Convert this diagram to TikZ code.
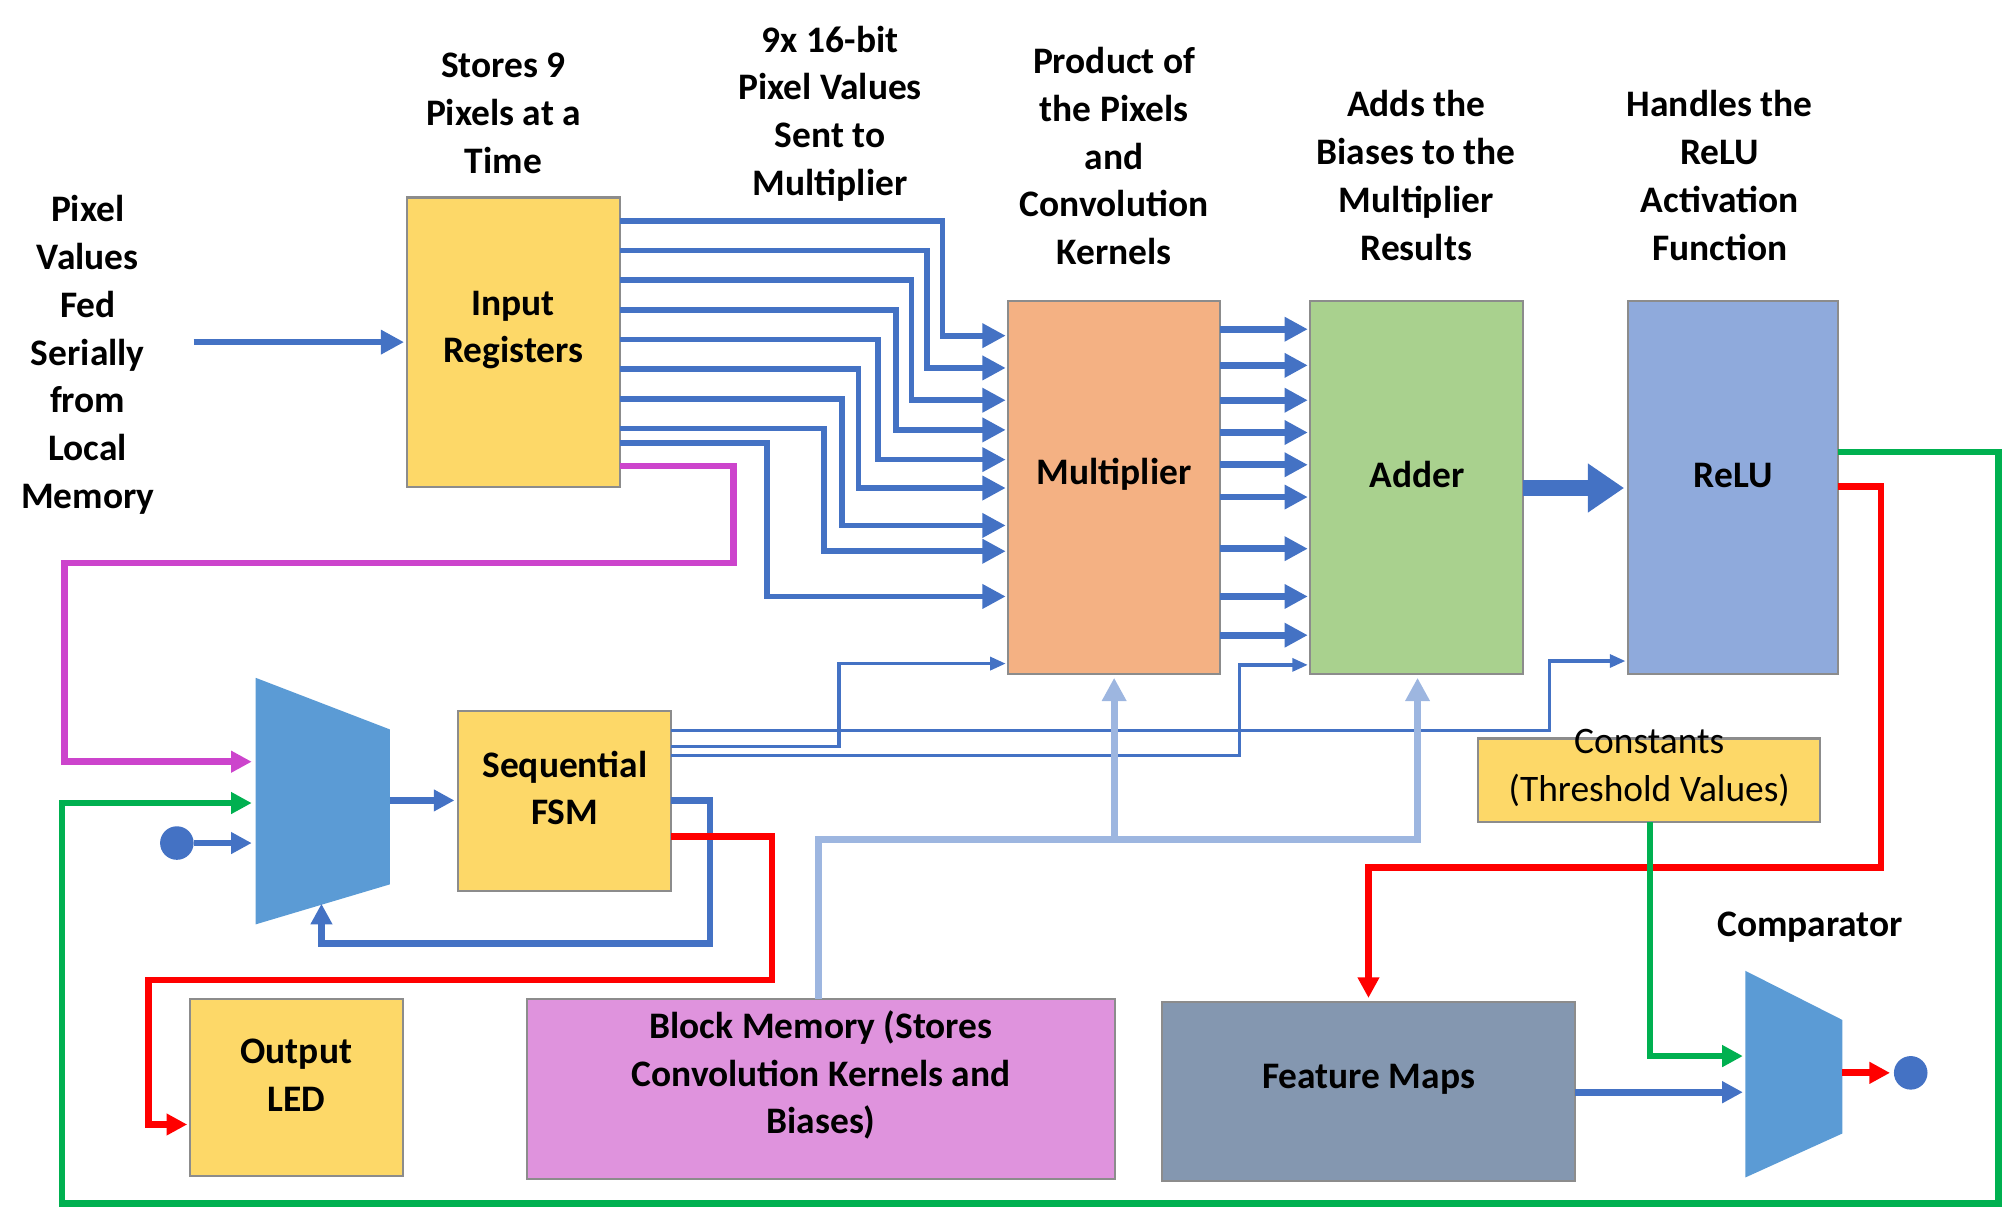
\documentclass[tikz,border=0pt]{standalone}
\usepackage{fontspec}
\setmainfont{Carlito}
\usetikzlibrary{fit,arrows.meta}
\definecolor{yel}{HTML}{FDD868}
\definecolor{ora}{HTML}{F4B183}
\definecolor{grn}{HTML}{A9D18E}
\definecolor{blu}{HTML}{8FAADC}
\definecolor{pnk}{HTML}{DF93DD}
\definecolor{fmap}{HTML}{8497B0}
\definecolor{ln}{HTML}{4472C4}
\definecolor{mux}{HTML}{5B9BD5}
\definecolor{lb}{HTML}{9DB6E0}
\definecolor{mag}{HTML}{CC44CC}
\definecolor{gr}{HTML}{00B050}
\begin{document}
\begin{tikzpicture}[x=0.5pt,y=-0.5pt,
  font=\fontsize{14.5}{18.5}\selectfont\bfseries,
  box/.style={draw=black!45,line width=0.8pt,inner sep=0pt,align=center},
  lbl/.style={align=center},
  bus/.style={ln,line width=2.6pt,-{Triangle[length=9pt,width=9pt]}},
  thin/.style={ln,line width=1.3pt,-{Triangle[length=6pt,width=5pt]}},
  wire/.style={line width=2.6pt,-{Triangle[length=8pt,width=8pt]}}]
\useasboundingbox (0,0) rectangle (1560,948);
% blocks
\node[box,fill=yel,fit={(315,153)(480,377)}] (inreg) {Input\\Registers};
\node[box,fill=ora,fit={(781,233)(945,522)}] (mult) {Multiplier};
\node[box,fill=grn,fit={(1015,233)(1180,522)}] (add) {Adder};
\node[box,fill=blu,fit={(1261,233)(1424,522)}] (relu) {ReLU};
\node[box,fill=yel,fit={(355,551)(520,690)}] (fsm) {Sequential\\FSM};
\node[box,fill=yel,fit={(147,774)(312,911)}] (led) {Output\\LED};
\node[box,fill=pnk,fit={(408,774)(864,913)}] (bram) {Block Memory (Stores\\Convolution Kernels and\\Biases)};
\node[box,fill=fmap,fit={(900,776)(1220,915)}] (fm) {Feature Maps};
\node[box,fill=yel,fit={(1145,572)(1410,637)}] (const) {\fontseries{m}\selectfont Constants\\\fontseries{m}\selectfont (Threshold Values)};
% muxes
\fill[mux] (198,525) -- (302,565) -- (302,685) -- (198,716) -- cycle;
\fill[mux] (1352,752) -- (1427,790) -- (1427,878) -- (1352,912) -- cycle;
\fill[ln] (137,653) circle (13);
\fill[ln] (1480,831) circle (13);
% labels
\node[lbl] at (68,275) {Pixel\\Values\\Fed\\Serially\\from\\Local\\Memory};
\node[lbl] at (390,88) {Stores 9\\Pixels at a\\Time};
\node[lbl] at (643,88) {9x 16-bit\\Pixel Values\\Sent to\\Multiplier};
\node[lbl] at (863,121) {Product of\\the Pixels\\and\\Convolution\\Kernels};
\node[lbl] at (1097,136) {Adds the\\Biases to the\\Multiplier\\Results};
\node[lbl] at (1332,136) {Handles the\\ReLU\\Activation\\Function};
\node[lbl] at (1402,718) {Comparator};
% input
\draw[bus] (150,265) -- (313,265);
% buses from input registers
\foreach \ys/\xt/\ye in {171/730/260,194/718/285,217/706/310,240/694/333,263/680/356,286/665/378,309/652/407,332/638/427,343/594/462}
  \draw[bus,line width=2.2pt] (480,\ys) -- (\xt,\ys) -- (\xt,\ye) -- (779,\ye);
% multiplier to adder
\foreach \y in {255,283,310,335,360,385,425,462,492}
  \draw[bus] (945,\y) -- (1013,\y);
\draw[ln,line width=6pt,-{Triangle[length=14pt,width=18pt]}] (1180,378) -- (1258,378);
% control lines
\draw[thin] (520,578) -- (650,578) -- (650,514) -- (779,514);
\draw[thin] (520,585) -- (960,585) -- (960,515) -- (1013,515);
\draw[thin] (520,566) -- (1200,566) -- (1200,512) -- (1259,512);
% memory
\draw[lb,line width=2.6pt,-{Triangle[length=9pt,width=9pt]}] (634,774) -- (634,650) -- (1098,650) -- (1098,525);
\draw[lb,line width=2.6pt,-{Triangle[length=9pt,width=9pt]}] (863,650) -- (863,525);
% feedback loops
\draw[wire,mag] (480,361) -- (568,361) -- (568,436) -- (50,436) -- (50,590) -- (195,590);
\draw[wire,gr] (1424,350) -- (1548,350) -- (1548,932) -- (48,932) -- (48,622) -- (195,622);
\draw[wire,ln] (150,653) -- (195,653);
\draw[wire,ln] (302,620) -- (352,620);
\draw[wire,ln] (520,620) -- (550,620) -- (550,731) -- (249,731) -- (249,700);
\draw[wire,red] (520,648) -- (598,648) -- (598,759) -- (115,759) -- (115,871) -- (145,871);
\draw[wire,red] (1424,377) -- (1457,377) -- (1457,672) -- (1060,672) -- (1060,773);
\draw[wire,gr] (1278,637) -- (1278,818) -- (1350,818);
\draw[wire,ln] (1220,846) -- (1350,846);
\draw[wire,red] (1427,831) -- (1464,831);
\end{tikzpicture}
\end{document}
